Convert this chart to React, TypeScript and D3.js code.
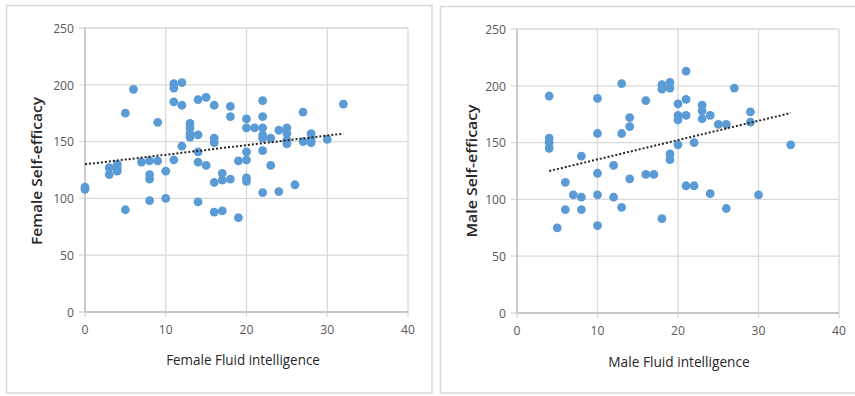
import React from "react";
import * as d3 from "d3";

const xTicks = [0, 10, 20, 30, 40];
const yTicks = [0, 50, 100, 150, 200, 250];

const femaleX = [0,0,3,3,4,4,4,5,5,6,7,8,8,8,8,9,9,10,10,11,11,11,11,12,12,12,13,13,13,13,14,14,14,14,14,15,15,16,16,16,16,16,17,17,17,18,18,18,19,19,20,20,20,20,20,20,21,22,22,22,22,22,22,22,23,23,24,24,25,25,25,25,26,27,27,28,28,28,30,32];
const femaleY = [108,110,121,127,124,130,127,175,90,196,132,133,121,117,98,167,133,124,100,201,197,185,134,202,182,146,166,162,157,154,187,156,141,132,97,189,129,182,153,149,114,88,122,116,89,181,172,117,133,83,170,162,141,134,118,115,162,186,172,162,156,153,142,105,153,129,160,106,162,157,151,148,112,176,150,157,152,149,152,183];
const femaleTrendX = [0, 32];
const femaleTrendY = [130, 157];

const maleX = [4,4,4,4,5,6,6,7,8,8,8,10,10,10,10,10,12,12,13,13,13,14,14,14,16,16,17,18,18,18,19,19,19,19,20,20,20,20,21,21,21,21,22,22,23,23,23,24,24,25,26,26,27,29,29,30,34];
const maleY = [191,154,150,145,75,115,91,104,138,102,91,189,158,123,104,77,130,102,202,158,93,172,164,118,187,122,122,201,197,83,203,198,140,135,184,174,170,148,213,188,174,112,150,112,183,178,171,174,105,166,166,92,198,177,168,104,148];
const maleTrendX = [4, 34];
const maleTrendY = [125, 176];

const FONT = "'Open Sans', Roboto, sans-serif";

type PanelProps = {
  box: [number, number, number, number];
  xr: [number, number];
  yr: [number, number];
  xs: number[];
  ys: number[];
  tx: number[];
  ty: number[];
  xTitle: string;
  yTitle: string;
  xTitlePos: [number, number];
  yTitlePos: [number, number];
};

function Panel(p: PanelProps) {
  const x = d3.scaleLinear().domain([0, 40]).range(p.xr);
  const y = d3.scaleLinear().domain([0, 250]).range(p.yr);
  const trend = d3.line<number>().x((d, i) => x(p.tx[i])).y((d, i) => y(p.ty[i]));
  return (
    <g>
      <rect x={p.box[0]} y={p.box[1]} width={p.box[2]} height={p.box[3]} fill="#fff" stroke="#d9d9d9" strokeWidth={1.5} />
      {yTicks.map((t) => (
        <g key={"y" + t}>
          <line x1={x(0) - 6} x2={x(40)} y1={y(t)} y2={y(t)} stroke="#d9d9d9" strokeWidth={1.3} />
          <text x={x(0) - 11} y={y(t)} dy="0.35em" textAnchor="end" fontSize={13.5} fill="#595959" fontFamily={FONT} transform={`translate(${x(0) - 11},0) scale(0.9,1) translate(${-(x(0) - 11)},0)`}>{t}</text>
        </g>
      ))}
      {xTicks.map((t) => (
        <g key={"x" + t}>
          <line x1={x(t)} x2={x(t)} y1={y(250)} y2={y(0) + 5} stroke="#d9d9d9" strokeWidth={1.3} />
          <text x={x(t)} y={y(0) + 22} textAnchor="middle" fontSize={13.5} fill="#595959" fontFamily={FONT} transform={`translate(${x(t)},0) scale(0.9,1) translate(${-x(t)},0)`}>{t}</text>
        </g>
      ))}
      <line x1={x(0)} x2={x(40)} y1={y(0)} y2={y(0)} stroke="#bfbfbf" strokeWidth={1.3} />
      <line x1={x(0)} x2={x(0)} y1={y(0)} y2={y(250)} stroke="#bfbfbf" strokeWidth={1.3} />
      {p.xs.map((v, i) => (
        <circle key={i} cx={x(v)} cy={y(p.ys[i])} r={4.4} fill="#5b9bd5" />
      ))}
      <path d={trend(p.tx) || ""} fill="none" stroke="#262626" strokeWidth={2} strokeDasharray="2,2" />
      <text x={p.xTitlePos[0]} y={p.xTitlePos[1]} dy="0.35em" textAnchor="middle" fontSize={14} fill="#262626" fontFamily={FONT} textLength={p.xTitle.length * 6.15} lengthAdjust="spacingAndGlyphs">{p.xTitle}</text>
      <text transform={`translate(${p.yTitlePos[0]},${p.yTitlePos[1]}) rotate(-90)`} dy="0.35em" textAnchor="middle" fontSize={14} fontWeight={600} fill="#262626" fontFamily={FONT} textLength={p.yTitle.length * 7.4} lengthAdjust="spacingAndGlyphs">{p.yTitle}</text>
    </g>
  );
}

export default function App() {
  return (
    <svg width={855} height={396} style={{ position: "absolute", left: 0, top: 0, background: "#fff" }}>
      <Panel box={[6.5, 5.5, 425.5, 387.5]} xr={[85, 408]} yr={[312, 28]} xs={femaleX} ys={femaleY} tx={femaleTrendX} ty={femaleTrendY}
        xTitle="Female Fluid intelligence" yTitle="Female Self-efficacy" xTitlePos={[243, 360]} yTitlePos={[37, 171]} />
      <Panel box={[440.5, 6.5, 430, 386.5]} xr={[517, 839]} yr={[313, 29]} xs={maleX} ys={maleY} tx={maleTrendX} ty={maleTrendY}
        xTitle="Male Fluid intelligence" yTitle="Male Self-efficacy" xTitlePos={[679, 362]} yTitlePos={[472, 171]} />
    </svg>
  );
}
